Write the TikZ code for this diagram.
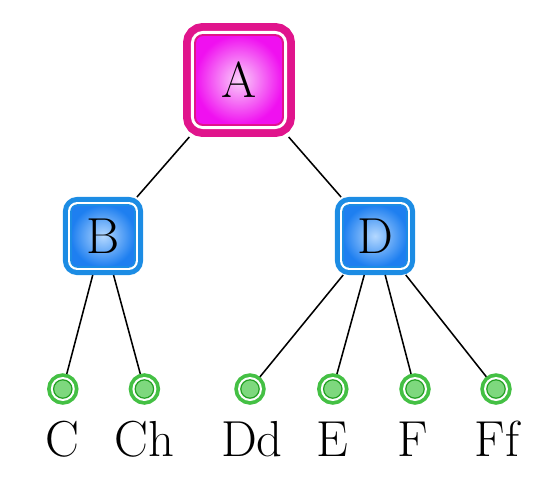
\documentclass[tikz,border=0pt]{standalone}
\usepackage{tikz}

\definecolor{rootline}{HTML}{E0148C}
\definecolor{rootin}{HTML}{FAD0FA}
\definecolor{rootout}{HTML}{F010F0}
\definecolor{midline}{HTML}{1C8CE4}
\definecolor{midin}{HTML}{B4D8FF}
\definecolor{midout}{HTML}{1E7FF0}
\definecolor{leafline}{HTML}{44C044}
\definecolor{leafedge}{HTML}{22A022}
\definecolor{leafin}{HTML}{7ED87E}

\tikzset{
  rootbox/.style={rectangle, rounded corners=0.2cm, minimum width=2.2cm, minimum height=2.25cm,
    preaction={draw=rootline, line width=17pt},
    preaction={draw=white, line width=5.7pt},
    draw=rootline, line width=1.4pt, inner color=rootin, outer color=rootout, outer sep=0.3cm},
  midbox/.style={rectangle, rounded corners=0.16cm, minimum width=1.6cm, minimum height=1.55cm,
    preaction={draw=midline, line width=11.4pt},
    preaction={draw=white, line width=4.2pt},
    draw=midline, line width=1.1pt, inner color=midin, outer color=midout, outer sep=0.2cm},
  leafdot/.style={circle, inner sep=0pt, minimum size=0.46cm,
    preaction={draw=leafline, line width=9.2pt},
    preaction={draw=white, line width=3.9pt},
    draw=leafedge, line width=0.85pt, fill=leafin, outer sep=0.16cm},
  leaflabel/.style={anchor=base, inner sep=0pt},
  branch/.style={draw=black, line width=1.1pt}
}

\begin{document}
\begin{tikzpicture}[font=\fontsize{36}{40}\selectfont]
    \useasboundingbox (0,0) rectangle (13.5,-12.025);

    % top and middle
    \node[rootbox] (a) at (5.975, -2.0) {A};
    \node[midbox] (b) at (2.575, -5.9) {B};
    \node[midbox] (d) at (9.375, -5.9) {D};

    % leaves
    \node[leafdot] (c) at (1.57, -9.725) {};
    \node[leafdot] (ch) at (3.61, -9.725) {};
    \node[leafdot] (dd) at (6.25, -9.725) {};
    \node[leafdot] (e) at (8.32, -9.725) {};
    \node[leafdot] (f) at (10.375, -9.725) {};
    \node[leafdot] (ff) at (12.4, -9.725) {};

    \node[leaflabel] (lc) at (1.55, -11.4) {C};
    \node[leaflabel] (lch) at (3.62, -11.4) {Ch};
    \node[leaflabel] (ldd) at (6.3, -11.4) {Dd};
    \node[leaflabel] (le) at (8.3, -11.4) {E};
    \node[leaflabel] (lf) at (10.33, -11.4) {F};
    \node[leaflabel] (lff) at (12.43, -11.4) {Ff};

    \draw[branch] (a) -- (b);
    \draw[branch] (a) -- (d);
    \draw[branch] (b) -- (c);
    \draw[branch] (b) -- (ch);
    \draw[branch] (d) -- (dd);
    \draw[branch] (d) -- (e);
    \draw[branch] (d) -- (f);
    \draw[branch] (d) -- (ff);
\end{tikzpicture}
\end{document}
